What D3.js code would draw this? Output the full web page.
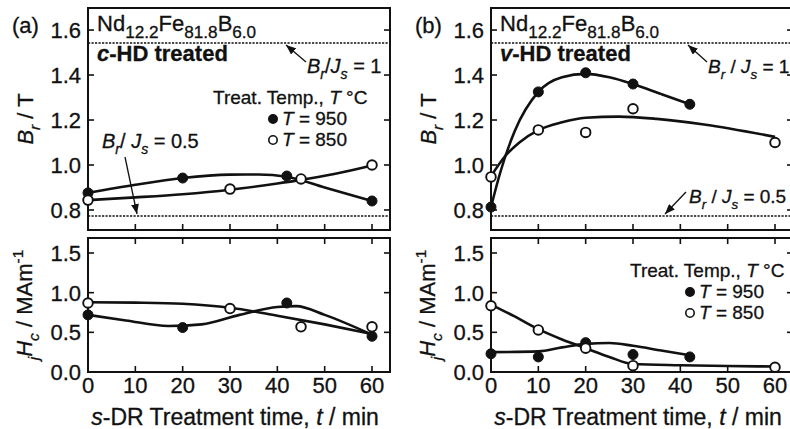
<!DOCTYPE html>
<html>
<head>
<meta charset="utf-8">
<script src="https://cdn.jsdelivr.net/npm/d3@7"></script>
<style>
  body { margin: 0; background: #fff; }
  svg { display: block; font-family: "Liberation Sans", Arial, sans-serif; }
  text { fill: #111; stroke: #111; stroke-width: 0.3px; }
</style>
</head>
<body>
<div id="chart"></div>
<script>
// ---- data ----
const timeTicks = [0, 10, 20, 30, 40, 50, 60];
const brTicks = [0.8, 1.0, 1.2, 1.4, 1.6];
const hcTicks = [0.0, 0.5, 1.0, 1.5];

// Br/Js reference levels (Br in T)
const brJs1 = 1.542;
const brJs05 = 0.773;

// (a) c-HD treated
const aBr950 = [[0, 0.876], [20, 0.942], [42, 0.951], [60, 0.84]];
const aBr850 = [[0, 0.844], [30, 0.893], [45, 0.938], [60, 1.0]];
const aHc950 = [[0, 0.72], [20, 0.56], [42, 0.87], [60, 0.45]];
const aHc850 = [[0, 0.87], [30, 0.80], [45, 0.57], [60, 0.57]];
// hand drawn guide curves
const aBr950Fit = [[0, 0.876], [10, 0.912], [20, 0.942], [30, 0.957], [36, 0.958], [42, 0.948], [50, 0.9], [60, 0.84]];
const aBr850Fit = [[0, 0.844], [10, 0.856], [20, 0.87], [30, 0.89], [40, 0.918], [45, 0.934], [52, 0.96], [60, 0.998]];
const aHc950Fit = [[0, 0.72], [8, 0.65], [17, 0.58], [24, 0.6], [32, 0.72], [40, 0.82], [44, 0.83], [50, 0.72], [60, 0.47]];
const aHc850Fit = [[0, 0.88], [10, 0.875], [20, 0.86], [30, 0.81], [40, 0.71], [50, 0.6], [60, 0.48]];

// (b) v-HD treated
const bBr950 = [[0, 0.813], [10, 1.325], [20, 1.41], [30, 1.36], [42, 1.27]];
const bBr850 = [[0, 0.947], [10, 1.156], [20, 1.145], [30, 1.25], [60, 1.10]];
const bHc950 = [[0, 0.23], [10, 0.19], [20, 0.37], [30, 0.22], [42, 0.19]];
const bHc850 = [[0, 0.835], [10, 0.53], [20, 0.30], [30, 0.08], [60, 0.06]];
const bBr950Fit = [[0, 0.813], [2, 0.97], [5, 1.15], [10, 1.325], [15, 1.39], [20, 1.405], [25, 1.39], [30, 1.36], [36, 1.315], [42, 1.27]];
const bBr850Fit = [[0, 0.95], [3, 1.04], [6, 1.10], [10, 1.155], [15, 1.19], [20, 1.21], [27, 1.215], [35, 1.205], [45, 1.18], [60, 1.125]];
const bHc950Fit = [[0, 0.25], [10, 0.26], [15, 0.31], [20, 0.355], [25, 0.365], [30, 0.33], [36, 0.27], [42, 0.21]];
const bHc850Fit = [[0, 0.85], [5, 0.70], [10, 0.54], [15, 0.41], [20, 0.30], [25, 0.19], [30, 0.10], [40, 0.085], [50, 0.075], [60, 0.07]];

// ---- layout ----
const W = 790, H = 429;
const upper = { top: 8, bottom: 230 };
const lower = { top: 238, bottom: 372 };
const panelW = 302;

const svg = d3.select("#chart").append("svg")
  .attr("width", W).attr("height", H);

svg.append("defs").append("marker")
  .attr("id", "arrow")
  .attr("viewBox", "0 0 10 8")
  .attr("refX", 10).attr("refY", 4)
  .attr("markerUnits", "userSpaceOnUse")
  .attr("markerWidth", 10).attr("markerHeight", 8)
  .attr("orient", "auto")
  .append("path").attr("d", "M0,0 L10,4 L0,8 Z").attr("fill", "#111");

// rich text helper: parts = [{t, i, b, sub, sup}]
function rich(sel, parts, fs, subScale) {
  const ss = subScale || 0.7;
  let off = 0;
  parts.forEach(p => {
    let target = 0;
    if (p.sub) target = fs * 0.3;
    if (p.sup) target = -fs * 0.4;
    const ts = sel.append("tspan")
      .attr("dy", target - off)
      .text(p.t)
      .attr("font-size", (p.sub || p.sup) ? fs * ss : fs);
    if (p.i) ts.attr("font-style", "italic");
    if (p.b) ts.attr("font-weight", "bold");
    off = target;
  });
  return sel;
}

function line(g, x, y, pts) {
  g.append("path")
    .datum(pts)
    .attr("d", d3.line().x(d => x(d[0])).y(d => y(d[1])).curve(d3.curveMonotoneX))
    .attr("fill", "none").attr("stroke", "#111").attr("stroke-width", 2.6);
}

function dots(g, x, y, pts, filled) {
  g.selectAll(null).data(pts).enter().append("circle")
    .attr("cx", d => x(d[0])).attr("cy", d => y(d[1])).attr("r", filled ? 5 : 4.8)
    .attr("fill", filled ? "#111" : "#fff")
    .attr("stroke", "#111").attr("stroke-width", filled ? 1 : 1.9);
}

function frame(g, x, y, top, bottom, left, right, yTicks, fmt, opts) {
  const tl = 6;
  yTicks.forEach(v => {
    g.append("line").attr("x1", left).attr("x2", left + tl).attr("y1", y(v)).attr("y2", y(v))
      .attr("stroke", "#111").attr("stroke-width", 1.6);
    g.append("line").attr("x1", right).attr("x2", right - tl).attr("y1", y(v)).attr("y2", y(v))
      .attr("stroke", "#111").attr("stroke-width", 1.6);
    g.append("text").attr("x", left - 7).attr("y", y(v)).attr("dy", "0.36em")
      .attr("text-anchor", "end").attr("font-size", 22).text(fmt(v));
  });
  timeTicks.filter(t => t > 0).forEach(t => {
    g.append("line").attr("x1", x(t)).attr("x2", x(t)).attr("y1", bottom).attr("y2", bottom - tl)
      .attr("stroke", "#111").attr("stroke-width", 1.6);
    if (opts.topTicks) {
      g.append("line").attr("x1", x(t)).attr("x2", x(t)).attr("y1", top).attr("y2", top + tl)
        .attr("stroke", "#111").attr("stroke-width", 1.6);
    }
  });
  if (opts.xLabels) {
    timeTicks.forEach(t => {
      g.append("text").attr("x", x(t)).attr("y", 393).attr("text-anchor", "middle")
        .attr("font-size", 22).text(t);
    });
  }
  g.append("rect").attr("x", left).attr("y", top).attr("width", right - left).attr("height", bottom - top)
    .attr("fill", "none").attr("stroke", "#111").attr("stroke-width", 2);
}

function panel(cfg) {
  const left = cfg.left, right = left + panelW;
  const x = d3.scaleLinear().domain([0, 63.8]).range([left, right]);
  const yBr = d3.scaleLinear().domain([0.711, 1.698]).range([upper.bottom, upper.top]);
  const yHc = d3.scaleLinear().domain([0, 1.689]).range([lower.bottom, lower.top]);
  const g = svg.append("g");

  g.append("text").attr("x", left - 76).attr("y", 33).attr("font-size", 22).text(cfg.letter);

  // Br/Js dotted levels
  [brJs1, brJs05].forEach(v => {
    g.append("line").attr("x1", left).attr("x2", right).attr("y1", yBr(v)).attr("y2", yBr(v))
      .attr("stroke", "#111").attr("stroke-width", 1.5).attr("stroke-dasharray", "2.2,1.3");
  });

  frame(g, x, yBr, upper.top, upper.bottom, left, right, brTicks, d3.format(".1f"), { topTicks: false, xLabels: false });
  frame(g, x, yHc, lower.top, lower.bottom, left, right, hcTicks, d3.format(".1f"), { topTicks: true, xLabels: true });

  line(g, x, yBr, cfg.br950Fit); line(g, x, yBr, cfg.br850Fit);
  line(g, x, yHc, cfg.hc950Fit); line(g, x, yHc, cfg.hc850Fit);
  dots(g, x, yBr, cfg.br950, true); dots(g, x, yBr, cfg.br850, false);
  dots(g, x, yHc, cfg.hc950, true); dots(g, x, yHc, cfg.hc850, false);

  // composition and treatment
  rich(g.append("text").attr("x", left + 9).attr("y", 31), [
    { t: "Nd" }, { t: "12.2", sub: true }, { t: "Fe" }, { t: "81.8", sub: true }, { t: "B" }, { t: "6.0", sub: true }
  ], 22, 0.78);
  rich(g.append("text").attr("x", left + 9).attr("y", 61), [
    { t: cfg.treat, i: true, b: true }, { t: "-HD treated", b: true }
  ], 22);

  // y titles
  rich(g.append("text").attr("transform", `translate(${left - 55},119) rotate(-90)`).attr("text-anchor", "middle"), [
    { t: "B", i: true }, { t: "r", i: true, sub: true }, { t: " / T" }
  ], 22);
  rich(g.append("text").attr("transform", `translate(${left - 56},305) rotate(-90)`).attr("text-anchor", "middle"), [
    { t: "j", i: true, sub: true }, { t: "H", i: true }, { t: "c", i: true, sub: true }, { t: " / MAm" }, { t: "-1", sup: true }
  ], 22);

  // x title
  rich(g.append("text").attr("x", left + 147).attr("y", 425).attr("text-anchor", "middle"), [
    { t: "s", i: true }, { t: "-DR Treatment time, " }, { t: "t", i: true }, { t: "  / min" }
  ], 23);

  cfg.annot(g, left);

  // legend
  const lg = cfg.legend;
  rich(g.append("text").attr("x", left + lg.x).attr("y", lg.y),
    [{ t: "Treat. Temp., " }, { t: "T", i: true }, { t: " °C" }], 19);
  [[true, "950"], [false, "850"]].forEach((d, i) => {
    const yy = lg.y + 21 * (i + 1);
    g.append("circle").attr("cx", left + lg.x + 60).attr("cy", yy - 6).attr("r", 4.2)
      .attr("fill", d[0] ? "#111" : "#fff").attr("stroke", "#111").attr("stroke-width", 1.6);
    rich(g.append("text").attr("x", left + lg.x + 69).attr("y", yy), [
      { t: "T", i: true }, { t: " = " + d[1] }
    ], 19);
  });
}

function arrow(g, x1, y1, x2, y2) {
  g.append("line").attr("x1", x1).attr("y1", y1).attr("x2", x2).attr("y2", y2)
    .attr("stroke", "#111").attr("stroke-width", 1.3).attr("marker-end", "url(#arrow)");
}

panel({
  letter: "(a)", left: 88, treat: "c",
  br950: aBr950, br850: aBr850, hc950: aHc950, hc850: aHc850,
  br950Fit: aBr950Fit, br850Fit: aBr850Fit, hc950Fit: aHc950Fit, hc850Fit: aHc850Fit,
  legend: { x: 125, y: 104 },
  annot: (g, left) => {
    rich(g.append("text").attr("x", left + 219).attr("y", 73), [
      { t: "B", i: true }, { t: "r", i: true, sub: true }, { t: "/" }, { t: "J", i: true }, { t: "s", i: true, sub: true }, { t: " = 1" }
    ], 20);
    arrow(g, left + 218, 62, left + 198, 45);
    rich(g.append("text").attr("x", left + 14).attr("y", 148), [
      { t: "B", i: true }, { t: "r", i: true, sub: true }, { t: "/ " }, { t: "J", i: true }, { t: "s", i: true, sub: true }, { t: " = 0.5" }
    ], 20);
    arrow(g, left + 37, 157, left + 49, 214);
  }
});

panel({
  letter: "(b)", left: 491, treat: "v",
  br950: bBr950, br850: bBr850, hc950: bHc950, hc850: bHc850,
  br950Fit: bBr950Fit, br850Fit: bBr850Fit, hc950Fit: bHc950Fit, hc850Fit: bHc850Fit,
  legend: { x: 139, y: 277 },
  annot: (g, left) => {
    rich(g.append("text").attr("x", left + 217).attr("y", 73), [
      { t: "B", i: true }, { t: "r", i: true, sub: true }, { t: " / " }, { t: "J", i: true }, { t: "s", i: true, sub: true }, { t: " = 1" }
    ], 19);
    arrow(g, left + 216, 62, left + 197, 45);
    rich(g.append("text").attr("x", left + 198).attr("y", 203), [
      { t: "B", i: true }, { t: "r", i: true, sub: true }, { t: " / " }, { t: "J", i: true }, { t: "s", i: true, sub: true }, { t: " = 0.5" }
    ], 19);
    arrow(g, left + 195, 192, left + 174, 214);
  }
});
</script>
</body>
</html>
